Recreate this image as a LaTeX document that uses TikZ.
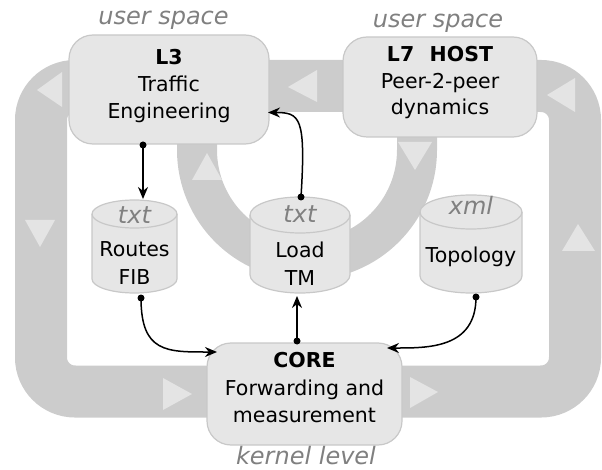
\documentclass[tikz,border=0pt]{standalone}
\usepackage{fontspec}
\setmainfont{DejaVu Sans}[ItalicFont={DejaVu Sans Oblique},BoldFont={DejaVu Sans Bold}]
\usetikzlibrary{arrows.meta,calc}

\definecolor{band}{HTML}{CCCCCC}
\definecolor{chevron}{HTML}{E4E4E4}
\definecolor{boxfill}{HTML}{E6E6E6}
\definecolor{boxline}{HTML}{C8C8C8}
\definecolor{hint}{HTML}{808080}

\tikzset{
  layerbox/.style={draw=boxline, fill=boxfill, line width=1.2pt,
    rounded corners=24pt, inner sep=0pt, outer sep=0pt},
  bodytext/.style={font=\fontsize{20.5}{24}\selectfont, anchor=base, inner sep=0pt},
  headtext/.style={bodytext, font=\fontsize{20.5}{24}\selectfont\bfseries},
  hinttext/.style={font=\fontsize{24}{28}\selectfont\itshape, text=hint,
    anchor=base, inner sep=0pt},
  flow/.style={line width=1.5pt, -{Stealth[length=12pt,width=10pt]}},
}

% data store drawn as a cylinder: name, left, right, top, bottom, cap radius
\newcommand\datastore[6]{%
  \path[draw=boxline, fill=boxfill, line width=1.2pt]
    (#2,#4+#6) -- (#2,#5-#6)
    arc[start angle=180, end angle=0, x radius={(#3-#2)/2}, y radius=#6]
    -- (#3,#4+#6)
    arc[start angle=0, end angle=-180, x radius={(#3-#2)/2}, y radius=#6]
    -- cycle;
  \draw[boxline, line width=1.2pt] (#2,#4+#6)
    arc[start angle=180, end angle=0, x radius={(#3-#2)/2}, y radius=#6];
  \node[inner sep=0pt, outer sep=0pt, minimum width={#3-#2},
    minimum height={#5-#4}] (#1) at ({(#2+#3)/2},{(#4+#5)/2}) {};
}

\begin{document}
\begin{tikzpicture}[x=1pt, y=-1pt]
\useasboundingbox (0,0) rectangle (602,470);

% outer loop between user space and kernel
\draw[band, line width=52pt, rounded corners=34pt] (41,86) rectangle (575,391.5);
\fill[chevron] (37,90) -- (62,72) -- (62,107) -- cycle;
\fill[chevron] (288,87) -- (317,70) -- (317,102) -- cycle;
\fill[chevron] (547,95) -- (575,78) -- (575,112) -- cycle;
\fill[chevron] (40,247) -- (25,220) -- (55,220) -- cycle;
\fill[chevron] (192,394) -- (163,378) -- (163,410) -- cycle;
\fill[chevron] (438,392) -- (410,377) -- (410,408) -- cycle;
\fill[chevron] (578,224) -- (562,251) -- (595,251) -- cycle;

% inner loop between the two user-space blocks
\draw[band, line width=40pt] (197,118) -- (197,150)
  arc[start angle=180, end angle=0, radius=110] -- (417,118);
\fill[chevron] (207,153) -- (192,180) -- (222,180) -- cycle;
\fill[chevron] (415,170) -- (398,142) -- (432,142) -- cycle;

% processing blocks
\node[layerbox, minimum width=200pt, minimum height=109pt] (L3) at (169,89.5) {};
\node[layerbox, minimum width=194pt, minimum height=100pt] (L7) at (440,87) {};
\node[layerbox, minimum width=195pt, minimum height=102pt] (core) at (304.5,394) {};

\node[headtext] (l3a) at (169,65) {L3};
\node[bodytext] (l3b) at (169,92) {Traffic};
\node[bodytext] (l3c) at (169,119) {Engineering};

\node[headtext] (l7a) at (440,62) {L7\hspace{0.75em}HOST};
\node[bodytext] (l7b) at (440,89) {Peer-2-peer};
\node[bodytext] (l7c) at (440,115) {dynamics};

\node[headtext] (corea) at (304.5,367) {CORE};
\node[bodytext] (coreb) at (304.5,395) {Forwarding and};
\node[bodytext] (corec) at (304.5,422) {measurement};

% data stores
\datastore{routes}{92}{177}{200}{293}{14}
\datastore{load}{250}{350}{197}{293}{18}
\datastore{topo}{420}{522}{195}{293}{17}

\node[hinttext] (routest) at (134.5,224) {txt};
\node[bodytext] (routesa) at (134.5,257) {Routes};
\node[bodytext] (routesb) at (134.5,284) {FIB};

\node[hinttext] (loadt) at (300,223) {txt};
\node[bodytext] (loada) at (300,258) {Load};
\node[bodytext] (loadb) at (300,285) {TM};

\node[hinttext] (topot) at (471,215) {xml};
\node[bodytext] (topoa) at (471,263) {Topology};

% space labels
\node[hinttext] (us1) at (163.5,25) {user space};
\node[hinttext] (us2) at (438,28) {user space};
\node[hinttext] (kl) at (306,464) {kernel level};

% data flows
\coordinate (f1s) at ($(L3.south)+(-26,1)$);
\coordinate (f1e) at ($(routes.north)+(8.5,-1)$);
\coordinate (f2s) at ($(load.north)+(1,0)$);
\coordinate (f2e) at ($(L3.east)+(-1,23)$);
\coordinate (f3s) at ($(routes.south)+(6.5,5)$);
\coordinate (f3e) at ($(core.west)+(10,-42)$);
\coordinate (f4s) at ($(core.north)+(-7.5,-2)$);
\coordinate (f4e) at ($(load.south)+(-3,3)$);
\coordinate (f5s) at ($(topo.south)+(5,4)$);
\coordinate (f5e) at ($(core.east)+(-15,-46)$);

\draw[flow] (f1s) -- (f1e);
\draw[flow] (f2s) .. controls ($(f2s)+(5,-80)$) and ($(f2e)+(32,0)$) .. (f2e);
\draw[flow] (f3s) .. controls ($(f3s)+(0,55)$) and ($(f3e)+(-50,0)$) .. (f3e);
\draw[flow] (f4s) -- (f4e);
\draw[flow] (f5s) .. controls ($(f5s)+(0,52)$) and ($(f5e)+(40,0)$) .. (f5e);
\foreach \p in {f1s,f2s,f3s,f4s,f5s} \fill (\p) circle[radius=3.5];
\end{tikzpicture}
\end{document}
